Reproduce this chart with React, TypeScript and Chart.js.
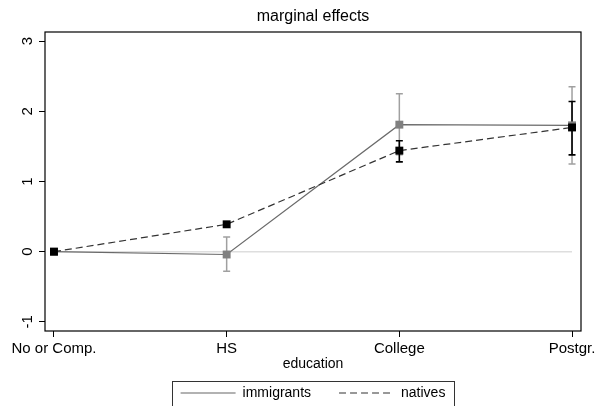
import React, { useEffect, useRef } from 'react';
import { Chart, registerables } from 'chart.js';

Chart.register(...registerables);

const titleText = 'marginal effects';
const xAxisTitle = 'education';
const categories = ['No or Comp.', 'HS', 'College', 'Postgr.'];
const yTickValues = [-1, 0, 1, 2, 3];

const seriesNames = ['immigrants', 'natives'];
const immigrants = [0, -0.04, 1.81, 1.8];
const immigrantsLow = [null, -0.28, 1.38, 1.25];
const immigrantsHigh = [null, 0.21, 2.25, 2.35];
const natives = [0, 0.39, 1.44, 1.77];
const nativesLow = [null, null, 1.28, 1.38];
const nativesHigh = [null, null, 1.58, 2.14];
const referenceLine = [0, 0];

const FONT = "'Liberation Sans', Arial, Helvetica, sans-serif";

export default function App() {
  const ref = useRef<HTMLCanvasElement>(null);

  useEffect(() => {
    const canvas = ref.current;
    if (!canvas) return;

    const toPoints = (vals: number[]) => vals.map((v, i) => ({ x: i, y: v }));

    const errorBarsPlugin = {
      id: 'errorBars',
      afterDatasetDraw(chart: any, args: any) {
        if (args.index !== 2) return;
        const { ctx } = chart;
        const xs = chart.scales.x;
        const ys = chart.scales.y;
        const draw = (lo: (number | null)[], hi: (number | null)[], color: string, width: number) => {
          ctx.save();
          ctx.strokeStyle = color;
          ctx.lineWidth = width;
          lo.forEach((l, i) => {
            const h = hi[i];
            if (l == null || h == null) return;
            const px = xs.getPixelForValue(i);
            const p1 = ys.getPixelForValue(l);
            const p2 = ys.getPixelForValue(h);
            const cap = 3.5;
            ctx.beginPath();
            ctx.moveTo(px, p1);
            ctx.lineTo(px, p2);
            ctx.moveTo(px - cap, p1);
            ctx.lineTo(px + cap, p1);
            ctx.moveTo(px - cap, p2);
            ctx.lineTo(px + cap, p2);
            ctx.stroke();
          });
          ctx.restore();
        };
        draw(immigrantsLow, immigrantsHigh, '#a0a0a0', 1.5);
        draw(nativesLow, nativesHigh, '#000000', 1.6);
      },
    };

    const framePlugin = {
      id: 'frame',
      afterDraw(chart: any) {
        const { ctx, chartArea } = chart;
        ctx.save();
        ctx.strokeStyle = '#000';
        ctx.lineWidth = 1.2;
        ctx.strokeRect(chartArea.left, chartArea.top, chartArea.right - chartArea.left, chartArea.bottom - chartArea.top);
        const lg = chart.legend;
        if (lg && lg.legendHitBoxes && lg.legendHitBoxes.length) {
          const hb = lg.legendHitBoxes;
          const first = hb[0];
          const last = hb[hb.length - 1];
          const left = first.left - 9;
          const right = last.left + last.width + 8;
          const top = first.top - 5;
          ctx.strokeStyle = '#333';
          ctx.lineWidth = 1;
          ctx.strokeRect(Math.round(left) + 0.5, Math.round(top) + 0.5, Math.round(right - left), 60);
        }
        ctx.restore();
      },
    };

    const legendColors = ['#666666', '#333333'];

    const chart = new Chart(canvas, {
      type: 'line',
      data: {
        datasets: [
          {
            label: seriesNames[0],
            data: toPoints(immigrants),
            borderColor: '#6a6a6a',
            borderWidth: 1.2,
            pointStyle: 'rect',
            pointRadius: 5.6,
            pointBackgroundColor: '#808080',
            pointBorderColor: '#808080',
            pointBorderWidth: 0,
            order: 1,
          },
          {
            label: seriesNames[1],
            data: toPoints(natives),
            borderColor: '#333333',
            borderWidth: 1.2,
            borderDash: [7, 4],
            pointStyle: 'rect',
            pointRadius: 5.6,
            pointBackgroundColor: '#000000',
            pointBorderColor: '#000000',
            pointBorderWidth: 0,
            order: 0,
          },
          {
            label: 'ref',
            data: referenceLine.map((v, i) => ({ x: i * (categories.length - 1), y: v })),
            borderColor: '#dedede',
            borderWidth: 1.5,
            pointRadius: 0,
            order: 2,
          },
        ],
      },
      options: {
        responsive: false,
        animation: false,
        events: [],
        layout: { padding: { left: 0, right: 14, top: 0, bottom: 0 } },
        plugins: {
          tooltip: { enabled: false },
          title: {
            display: true,
            fullSize: false,
            text: titleText,
            color: '#000',
            font: { family: FONT, size: 16, weight: 'normal' },
            padding: { top: 7.4, bottom: 5.4 },
          },
          legend: {
            display: true,
            position: 'bottom',
            fullSize: false,
            maxHeight: 48,
            labels: {
              color: '#000',
              font: { family: FONT, size: 14 },
              usePointStyle: true,
              pointStyle: 'line',
              pointStyleWidth: 55,
              padding: 28,
              generateLabels: (c: any) =>
                c.data.datasets.slice(0, 2).map((ds: any, i: number) => ({
                  text: ds.label,
                  fillStyle: legendColors[i],
                  strokeStyle: legendColors[i],
                  lineWidth: 1.2,
                  lineDash: ds.borderDash || [],
                  pointStyle: 'line',
                  hidden: false,
                  datasetIndex: i,
                  fontColor: '#000',
                })),
            },
          },
        },
        scales: {
          x: {
            type: 'linear',
            min: -0.052,
            max: 3.052,
            afterBuildTicks: (scale: any) => {
              scale.ticks = categories.map((_, i) => ({ value: i }));
            },
            afterFit: (scale: any) => {
              scale.height = 27;
              scale.paddingLeft = 0;
              scale.paddingRight = 0;
            },
            ticks: {
              autoSkip: false,
              maxRotation: 0,
              minRotation: 0,
              color: '#000',
              padding: 3,
              font: { family: FONT, size: 15 },
              callback: (v: any) => categories[v] ?? '',
            },
            grid: {
              display: true,
              drawOnChartArea: false,
              drawTicks: true,
              tickLength: 6,
              color: '#000',
            },
            border: { display: false },
            title: {
              display: true,
              text: xAxisTitle,
              color: '#000',
              font: { family: FONT, size: 14 },
              padding: { top: 0, bottom: -14.9 },
            },
          },
          y: {
            type: 'linear',
            min: -1.13,
            max: 3.13,
            afterBuildTicks: (scale: any) => {
              scale.ticks = yTickValues.map((v) => ({ value: v }));
            },
            afterFit: (scale: any) => {
              scale.width = 45;
              scale.paddingTop = 0;
              scale.paddingBottom = 0;
            },
            ticks: {
              color: '#000',
              minRotation: 90,
              maxRotation: 90,
              crossAlign: 'center',
              padding: 4,
              font: { family: FONT, size: 15 },
              callback: (v: any) => String(v),
            },
            grid: {
              display: true,
              drawOnChartArea: false,
              drawTicks: true,
              tickLength: 6,
              color: '#000',
            },
            border: { display: false },
          },
        },
      },
      plugins: [errorBarsPlugin, framePlugin],
    } as any);

    return () => chart.destroy();
  }, []);

  return (
    <div style={{ position: 'fixed', left: 0, top: 0, width: 595, height: 406, background: '#fff' }}>
      <canvas ref={ref} width={595} height={406} />
    </div>
  );
}
